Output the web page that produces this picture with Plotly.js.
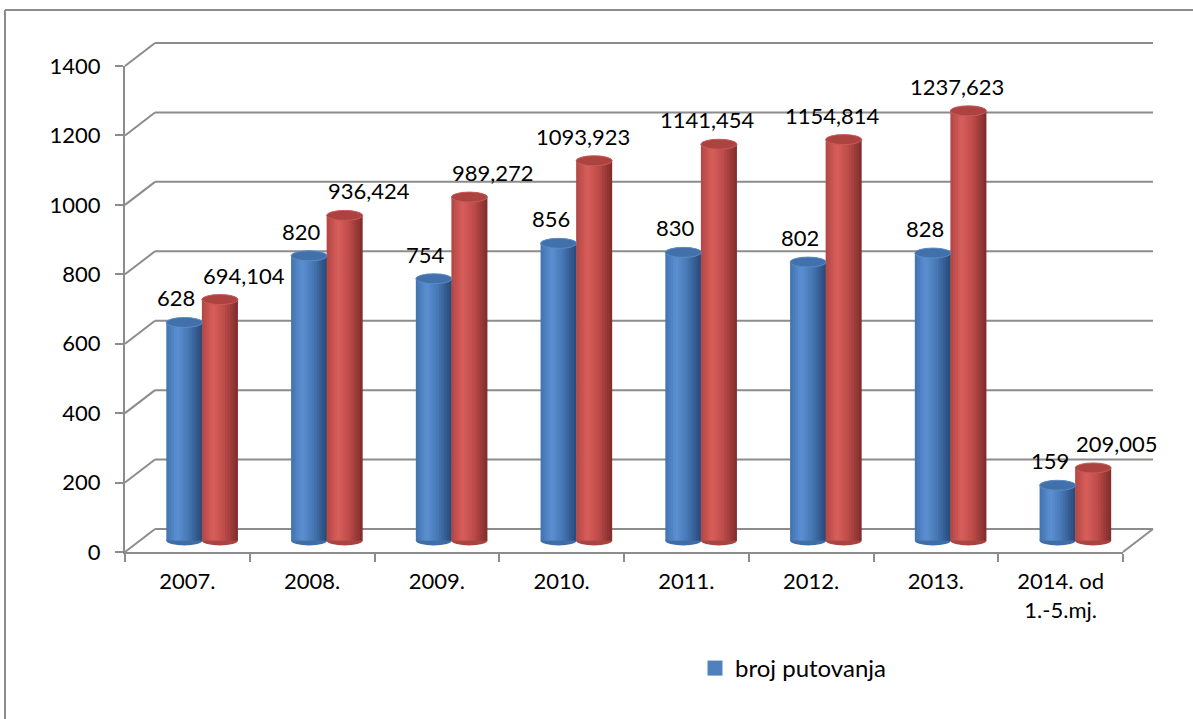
<!DOCTYPE html>
<html>
<head>
<meta charset="utf-8">
<script src="https://cdn.plot.ly/plotly-3.0.1.min.js"></script>
<style>html,body{margin:0;padding:0;background:#fff;}#chart{width:1193px;height:719px;}</style>
</head>
<body>
<div id="chart"></div>
<script>
// ---- data ----
const categories = ['2007.', '2008.', '2009.', '2010.', '2011.', '2012.', '2013.', '2014. od<br>1.-5.mj.'];
const brojPutovanja = [628, 820, 754, 856, 830, 802, 828, 159];
const drugaSerija = [694.104, 936.424, 989.272, 1093.923, 1141.454, 1154.814, 1237.623, 209.005];
const yTicks = [0, 200, 400, 600, 800, 1000, 1200, 1400];
const seriesName = 'broj putovanja';

// ---- geometry (pixels) ----
const W = 1193, H = 719;
const YMAX = 1400;
const K = 486 / YMAX;            // px per unit
const FX0 = 125, FX1 = 1123, FY0 = 552;  // front plane
const MDX = 15, MDY = -11.5;     // bar plane offset
const BDX = 30, BDY = -23;       // back wall offset
const YLOW = -50;
const px = x => x / W;
const py = y => 1 - y / H;
const fy = v => FY0 - v * K;
const by = v => FY0 + BDY - v * K;
const GRID = '#8c8c8c';
const FONT = {family: 'Lato, "Open Sans", sans-serif', size: 22, color: '#000'};

const xIdx = categories.map((c, i) => i);

// cylinder shading
const blueStops = [[0, [66, 114, 176]], [0.3, [92, 144, 210]], [0.6, [72, 120, 182]], [1, [38, 72, 118]]];
const redStops = [[0, [176, 70, 68]], [0.3, [216, 94, 91]], [0.6, [192, 78, 75]], [1, [126, 44, 42]]];
function shade(stops, t) {
  for (let i = 0; i < stops.length - 1; i++) {
    const [t0, c0] = stops[i], [t1, c1] = stops[i + 1];
    if (t >= t0 && t <= t1) {
      const f = (t - t0) / (t1 - t0);
      const c = c0.map((v, k) => Math.round(v + (c1[k] - v) * f));
      return 'rgb(' + c.join(',') + ')';
    }
  }
  return 'rgb(' + stops[stops.length - 1][1].join(',') + ')';
}

const BW = 0.289;
const BLUE_OFF = -0.289, RED_OFF = -0.004;
const N = 14;
const traces = [];

// front axis carrier (no marks)
traces.push({type: 'scatter', mode: 'none', x: categories, y: categories.map(() => 0),
  xaxis: 'x', yaxis: 'y', hoverinfo: 'skip', showlegend: false});

function addCylinder(values, stops, off) {
  const sw = BW / N;
  for (let s = 0; s < N; s++) {
    traces.push({
      type: 'bar', x: xIdx, y: values, xaxis: 'x2', yaxis: 'y2',
      offset: off + s * sw, width: s < N - 1 ? sw * 1.6 : sw,
      marker: {color: shade(stops, (s + 0.5) / N), line: {width: 0}},
      hoverinfo: 'skip', showlegend: false
    });
  }
}
addCylinder(brojPutovanja, blueStops, BLUE_OFF);
addCylinder(drugaSerija, redStops, RED_OFF);

// legend carrier (point lies outside the visible range)
traces.push({type: 'scatter', mode: 'markers', x: [0], y: [-1000], xaxis: 'x2', yaxis: 'y2', name: seriesName,
  marker: {color: '#4F81BD', symbol: 'square', size: 15, line: {width: 0}},
  hoverinfo: 'skip', showlegend: true, cliponaxis: true});

// ---- shapes ----
const shapes = [];
// border
shapes.push({type: 'line', xref: 'paper', yref: 'paper', x0: px(5), x1: 1, y0: py(10), y1: py(10), line: {color: GRID, width: 2}});
shapes.push({type: 'line', xref: 'paper', yref: 'paper', x0: px(5), x1: px(5), y0: py(10), y1: 0, line: {color: GRID, width: 2}});
// back wall gridlines + diagonals
yTicks.forEach(v => {
  shapes.push({type: 'line', xref: 'paper', yref: 'paper', layer: 'below',
    x0: px(FX0 + BDX), x1: px(FX1 + BDX), y0: py(by(v)), y1: py(by(v)), line: {color: GRID, width: 2}});
  shapes.push({type: 'line', xref: 'paper', yref: 'paper', layer: 'below',
    x0: px(FX0), x1: px(FX0 + BDX), y0: py(fy(v)), y1: py(by(v)), line: {color: GRID, width: 2}});
});
// floor right edge
shapes.push({type: 'line', xref: 'paper', yref: 'paper', layer: 'below',
  x0: px(FX1), x1: px(FX1 + BDX), y0: py(fy(0)), y1: py(by(0)), line: {color: GRID, width: 2}});

const E = 5 / K; // ellipse half-height in units
function ellipses(values, off, bodyCol, topCol, rimCol) {
  values.forEach((v, i) => {
    shapes.push({type: 'circle', xref: 'x2', yref: 'y2', layer: 'below',
      x0: i + off, x1: i + off + BW, y0: -E, y1: E, fillcolor: bodyCol, line: {width: 0}});
    shapes.push({type: 'circle', xref: 'x2', yref: 'y2', layer: 'above',
      x0: i + off, x1: i + off + BW, y0: v - E, y1: v + E, fillcolor: topCol, line: {color: rimCol, width: 1}});
  });
}
ellipses(brojPutovanja, BLUE_OFF, '#3f6da6', '#4270aa', '#5a8bc8');
ellipses(drugaSerija, RED_OFF, '#a84441', '#ad4340', '#c75a57');

// ---- labels ----
const annotations = [];
brojPutovanja.forEach((v, i) => {
  annotations.push({xref: 'x2', yref: 'y2', x: i + BLUE_OFF + BW / 2, y: v, text: String(v),
    showarrow: false, yanchor: 'bottom', xanchor: 'center', yshift: 9, xshift: -8, font: FONT});
});
drugaSerija.forEach((v, i) => {
  const t = v.toFixed(3).replace('.', ',');
  annotations.push({xref: 'x2', yref: 'y2', x: i + RED_OFF + BW / 2, y: v, text: t,
    showarrow: false, yanchor: 'bottom', xanchor: 'center', yshift: 9, xshift: t.length > 7 ? -11 : 24, font: FONT});
});

const layout = {
  width: W, height: H, autosize: false,
  margin: {l: 0, r: 0, t: 0, b: 0, pad: 0},
  paper_bgcolor: '#fff', plot_bgcolor: 'rgba(0,0,0,0)',
  barmode: 'overlay',
  font: FONT,
  xaxis: {type: 'category', categoryorder: 'array', categoryarray: categories,
    domain: [px(FX0), px(FX1)], range: [-0.5, categories.length - 0.5], anchor: 'y',
    tickson: 'boundaries', ticks: 'outside', ticklen: 8, tickwidth: 2, tickcolor: GRID,
    showline: true, linecolor: GRID, linewidth: 2, showgrid: false, zeroline: false,
    tickfont: FONT, ticklabelstandoff: 9, fixedrange: true},
  yaxis: {domain: [py(fy(0)), py(fy(YMAX))], range: [0, YMAX], anchor: 'x',
    tickvals: yTicks, ticktext: yTicks.map(String), ticks: 'outside', ticklen: 8, tickwidth: 2, tickcolor: GRID,
    showline: true, linecolor: GRID, linewidth: 2, showgrid: false, zeroline: false,
    tickfont: FONT, ticklabelstandoff: 10, fixedrange: true},
  xaxis2: {domain: [px(FX0 + MDX), px(FX1 + MDX)], range: [-0.5, categories.length - 0.5],
    anchor: 'y2', visible: false, fixedrange: true},
  yaxis2: {domain: [py(FY0 + MDY - YLOW * K), py(FY0 + MDY - YMAX * K)], range: [YLOW, YMAX],
    anchor: 'x2', visible: false, fixedrange: true},
  showlegend: true,
  legend: {x: px(695), y: py(646), xanchor: 'left', yanchor: 'top', orientation: 'h',
    font: Object.assign({}, FONT, {size: 24}), bgcolor: 'rgba(0,0,0,0)', itemwidth: 30},
  shapes: shapes,
  annotations: annotations
};

Plotly.newPlot('chart', traces, layout, {staticPlot: true, displayModeBar: false});
</script>
</body>
</html>
